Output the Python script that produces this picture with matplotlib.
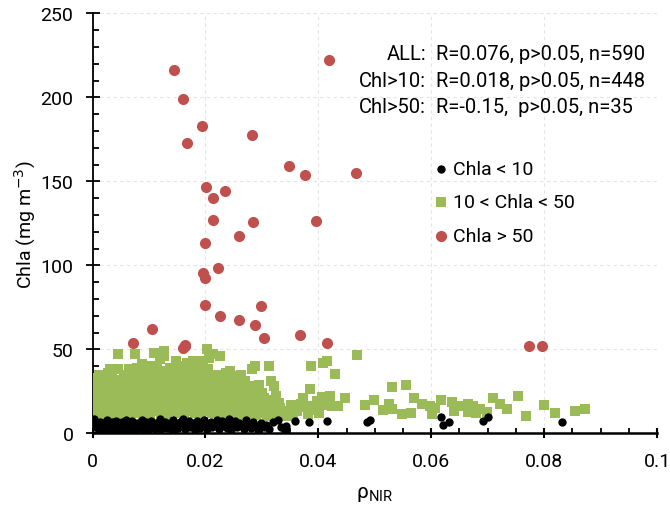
import matplotlib
matplotlib.use("Agg")
import matplotlib.pyplot as plt
from matplotlib.ticker import MultipleLocator

plt.rcParams['font.family'] = ['Roboto', 'DejaVu Sans']

# ---------------- data ----------------
red_x = [0.0145, 0.0161, 0.0168, 0.0194, 0.0282, 0.0418, 0.0348, 0.0376, 0.0466,
         0.0201, 0.0235, 0.0214, 0.0214, 0.0285, 0.0396, 0.0260, 0.0199, 0.0222,
         0.0196, 0.0199, 0.0200, 0.0298, 0.0225, 0.0260, 0.0287, 0.0106, 0.0304,
         0.0367, 0.0071, 0.0164, 0.0161, 0.0415, 0.0774, 0.0797, 0.0163]
red_y = [216.0, 198.8, 172.8, 183.0, 177.8, 222.4, 159.0, 154.0, 155.0,
         146.8, 144.4, 140.3, 127.0, 126.0, 126.4, 117.7, 113.3, 98.2,
         95.4, 92.3, 76.4, 76.0, 69.6, 67.7, 64.7, 62.3, 56.9,
         58.3, 53.6, 52.6, 51.0, 53.6, 52.0, 52.0, 52.0]

green_x = [
    0.0002, 0.0004, 0.0003, 0.0006, 0.0008, 0.0009, 0.0005, 0.0010, 0.0001, 0.0007,
    0.0012, 0.0014, 0.0013, 0.0016, 0.0018, 0.0019, 0.0015, 0.0017, 0.0020,
    0.0022, 0.0024, 0.0023, 0.0026, 0.0028, 0.0029, 0.0025, 0.0027, 0.0030, 0.0021,
    0.0032, 0.0034, 0.0033, 0.0036, 0.0038, 0.0039, 0.0035, 0.0037, 0.0031,
    0.0042, 0.0044, 0.0043, 0.0046, 0.0048, 0.0049, 0.0045, 0.0047, 0.0041,
    0.0052, 0.0054, 0.0053, 0.0056, 0.0058, 0.0059, 0.0055, 0.0057, 0.0051,
    0.0062, 0.0064, 0.0063, 0.0066, 0.0068, 0.0069, 0.0065, 0.0067, 0.0061,
    0.0072, 0.0074, 0.0073, 0.0076, 0.0078, 0.0079, 0.0075, 0.0077, 0.0071,
    0.0082, 0.0084, 0.0083, 0.0086, 0.0088, 0.0089, 0.0085, 0.0087, 0.0081,
    0.0092, 0.0094, 0.0093, 0.0096, 0.0098, 0.0099, 0.0095, 0.0097, 0.0091,
    0.0102, 0.0104, 0.0103, 0.0106, 0.0108, 0.0109, 0.0105, 0.0107, 0.0101,
    0.0112, 0.0114, 0.0113, 0.0116, 0.0118, 0.0119, 0.0115, 0.0117, 0.0111,
    0.0122, 0.0124, 0.0123, 0.0126, 0.0128, 0.0129, 0.0125, 0.0127, 0.0121,
    0.0132, 0.0134, 0.0133, 0.0136, 0.0138, 0.0139, 0.0135, 0.0137, 0.0131,
    0.0142, 0.0144, 0.0143, 0.0146, 0.0148, 0.0149, 0.0145, 0.0147, 0.0141,
    0.0152, 0.0154, 0.0153, 0.0156, 0.0158, 0.0159, 0.0155, 0.0157, 0.0151,
    0.0162, 0.0164, 0.0163, 0.0166, 0.0168, 0.0169, 0.0165, 0.0167, 0.0161,
    0.0172, 0.0174, 0.0173, 0.0176, 0.0178, 0.0179, 0.0175, 0.0177, 0.0171,
    0.0182, 0.0184, 0.0183, 0.0186, 0.0188, 0.0189, 0.0185, 0.0187, 0.0181,
    0.0192, 0.0194, 0.0193, 0.0196, 0.0198, 0.0199, 0.0195, 0.0197, 0.0191,
    0.0202, 0.0204, 0.0203, 0.0206, 0.0208, 0.0209, 0.0205, 0.0207, 0.0201,
    0.0212, 0.0214, 0.0213, 0.0216, 0.0218, 0.0219, 0.0215, 0.0217,
    0.0222, 0.0224, 0.0223, 0.0226, 0.0228, 0.0229, 0.0225,
    0.0232, 0.0234, 0.0233, 0.0236, 0.0238, 0.0239, 0.0235,
    0.0242, 0.0244, 0.0243, 0.0246, 0.0248, 0.0249, 0.0245,
    0.0252, 0.0254, 0.0253, 0.0256, 0.0258, 0.0259, 0.0255,
    0.0262, 0.0264, 0.0263, 0.0266, 0.0268, 0.0269, 0.0265,
    0.0272, 0.0274, 0.0273, 0.0276, 0.0278, 0.0279,
    0.0282, 0.0284, 0.0283, 0.0286, 0.0288, 0.0289, 0.0285,
    0.0292, 0.0294, 0.0293, 0.0296, 0.0298, 0.0299,
    0.0302, 0.0304, 0.0303, 0.0306, 0.0308, 0.0309,
    0.0312, 0.0314, 0.0316, 0.0318, 0.0319,
    0.0322, 0.0324, 0.0326, 0.0328,
    0.0332, 0.0338, 0.0342, 0.0346, 0.0351, 0.0355, 0.0359,
    0.0363, 0.0370, 0.0379, 0.0382, 0.0387, 0.0386, 0.0397, 0.0406, 0.0408, 0.0416,
    0.0418, 0.0424, 0.0430, 0.0435, 0.0448, 0.0468, 0.0368, 0.0398, 0.0410, 0.0420,
    0.0372, 0.0392, 0.0402, 0.0413,
    0.0483, 0.0499, 0.0514, 0.0526, 0.0530, 0.0530, 0.0555, 0.0570, 0.0548, 0.0565,
    0.0583, 0.0598, 0.0601, 0.0618, 0.0636, 0.0640, 0.0654, 0.0666, 0.0666, 0.0674,
    0.0686, 0.0698, 0.0710, 0.0722, 0.0734, 0.0754, 0.0768, 0.0800, 0.0819, 0.0855,
    0.0872, 0.0607, 0.0679,
    0.0006, 0.0011, 0.0019, 0.0027, 0.0033, 0.0040, 0.0045, 0.0050, 0.0056, 0.0060,
    0.0064, 0.0070, 0.0074, 0.0080, 0.0084, 0.0090, 0.0094, 0.0100, 0.0104, 0.0110,
    0.0114, 0.0120, 0.0124, 0.0130, 0.0134, 0.0140, 0.0144, 0.0150, 0.0154, 0.0160,
    0.0164, 0.0170, 0.0174, 0.0180, 0.0184, 0.0190, 0.0194, 0.0200, 0.0204, 0.0210,
    0.0214, 0.0220, 0.0224, 0.0230, 0.0234, 0.0240, 0.0244, 0.0250, 0.0254, 0.0260,
    0.0264, 0.0270, 0.0274, 0.0280, 0.0284, 0.0290, 0.0295, 0.0300, 0.0305, 0.0310,
    0.0315, 0.0320, 0.0325, 0.0330, 0.0335,
    0.0009, 0.0036, 0.0066, 0.0096, 0.0126, 0.0156, 0.0186, 0.0216, 0.0246, 0.0276,
]
green_y = [
    12, 17, 22, 27, 14, 20, 25, 30, 19, 10.5,
    13, 18, 24, 29, 11, 21, 32, 16, 26,
    12, 19, 28, 34, 15, 23, 31, 36, 38, 22,
    11, 17, 25, 30, 14, 21, 33, 27, 35,
    13, 20, 24, 29, 16, 11, 47, 26, 32,
    12, 18, 23, 28, 15, 21, 35, 31, 26,
    11, 17, 22, 27, 36, 14, 32, 20, 25,
    12, 19, 25, 30, 39, 16, 47, 34, 22,
    13, 18, 24, 29, 41, 11, 36, 21, 33,
    12, 17, 26, 31, 40, 20, 23, 35, 15,
    11, 16, 22, 28, 48, 35, 25, 19, 31,
    13, 18, 24, 30, 37, 44, 21, 27, 33,
    12, 17, 23, 49, 33, 20, 28, 46, 15,
    11, 16, 22, 27, 39, 31, 19, 25, 34,
    13, 18, 24, 29, 35, 21, 15, 43, 27,
    12, 17, 22, 40, 30, 26, 36, 19, 33,
    11, 16, 21, 27, 38, 32, 24, 42, 14,
    13, 18, 25, 30, 43, 22, 34, 16, 28,
    12, 17, 24, 37, 29, 20, 31, 14, 39,
    11, 19, 26, 43, 33, 15, 30, 22, 37,
    13, 18, 50, 31, 24, 35, 16, 45, 28,
    12, 20, 47, 27, 35, 15, 31, 23,
    14, 19, 34, 46, 25, 11, 29,
    13, 17, 21, 36, 26, 30, 12,
    15, 19, 37, 29, 23, 12, 34,
    14, 21, 27, 17, 24, 11, 31,
    13, 20, 35, 26, 17, 24, 31,
    12, 18, 23, 25, 15, 20,
    14, 19, 38, 22, 40, 11, 28,
    13, 17, 26, 20, 23, 15,
    12, 16, 21, 18, 14, 10.5,
    40, 13, 31, 17, 11,
    28, 14, 12, 16,
    15, 12, 13, 10.5, 17, 12, 14,
    13.5, 17.4, 16.4, 11.5, 39.9, 26.4, 19.4, 21.4, 41.7, 42.9,
    20.4, 16.4, 35.1, 16.4, 21.0, 46.8, 15.5, 17.5, 20.4, 22.4,
    21, 14, 12, 17,
    17.0, 20.0, 13.9, 17.4, 14.5, 27.4, 28.8, 21.0, 11.5, 12.1,
    17.4, 16.4, 11.5, 19.8, 18.5, 13.5, 16.4, 17.4, 12.5, 16.4,
    14.5, 12.5, 21.0, 17.4, 14.5, 22.0, 10.3, 17.0, 11.9, 13.5,
    14.3, 15.0, 12.0,
    33, 35, 33, 18, 37, 15, 38, 20, 33, 30,
    38, 29, 36, 26, 38, 28, 33, 24, 38, 29,
    40, 26, 36, 30, 37, 32, 39, 24, 28, 35,
    30, 38, 32, 26, 34, 28, 41, 33, 38, 25,
    33, 29, 22, 33, 27, 31, 16, 34, 18, 28,
    15, 31, 26, 16, 25, 19, 29, 24, 13, 20,
    15, 19, 22, 18, 10.5,
    15, 12.5, 13, 12.5, 13.5, 12.5, 13.5, 12.5, 14, 11.5,
]

black_x = [
    0.0002, 0.0004, 0.0008, 0.0011, 0.0013, 0.0016, 0.0019, 0.0021, 0.0024, 0.0026,
    0.0029, 0.0031, 0.0034, 0.0036, 0.0039, 0.0041, 0.0044, 0.0047, 0.0049, 0.0052,
    0.0055, 0.0057, 0.0060, 0.0062, 0.0065, 0.0068, 0.0070, 0.0073, 0.0076, 0.0079,
    0.0081, 0.0084, 0.0087, 0.0089, 0.0092, 0.0095, 0.0098, 0.0101, 0.0104, 0.0107,
    0.0110, 0.0113, 0.0116, 0.0119, 0.0122, 0.0125, 0.0128, 0.0131, 0.0134, 0.0137,
    0.0140, 0.0143, 0.0146, 0.0149, 0.0152, 0.0155, 0.0158, 0.0161, 0.0164, 0.0167,
    0.0170, 0.0173, 0.0176, 0.0179, 0.0182, 0.0185, 0.0188, 0.0191, 0.0194, 0.0197,
    0.0200, 0.0203, 0.0206, 0.0209, 0.0212, 0.0215, 0.0218, 0.0221, 0.0224, 0.0227,
    0.0230, 0.0233, 0.0236, 0.0239, 0.0242, 0.0245, 0.0248, 0.0252, 0.0256, 0.0260,
    0.0264, 0.0268, 0.0272, 0.0276, 0.0280, 0.0284, 0.0288, 0.0293, 0.0298, 0.0303,
    0.0308, 0.0313, 0.0320, 0.0328, 0.0333, 0.0341, 0.0343, 0.0358, 0.0383, 0.0415,
    0.0486, 0.0492, 0.0617, 0.0621, 0.0631, 0.0692, 0.0701, 0.0831,
]
black_y = [
    8.5, 3.5, 5.5, 2.0, 7.0, 4.0, 6.0, 1.5, 3.0, 8.0,
    5.0, 2.5, 6.5, 4.5, 1.8, 7.5, 3.2, 5.8, 2.2, 6.8,
    4.2, 1.6, 8.2, 3.6, 5.4, 2.4, 7.2, 4.6, 1.9, 6.2,
    3.0, 5.0, 8.0, 2.0, 4.4, 6.6, 1.7, 3.8, 7.4, 5.2,
    2.6, 6.0, 4.0, 8.4, 2.8, 5.6, 7.0, 3.4, 4.8, 6.4,
    2.2, 7.8, 4.6, 5.8, 3.0, 6.8, 4.2, 8.6, 2.6, 5.4,
    7.2, 3.8, 6.2, 4.4, 2.0, 7.6, 5.0, 3.2, 6.6, 8.2,
    4.0, 2.4, 5.8, 7.0, 3.6, 6.0, 4.8, 8.0, 2.8, 5.4,
    7.4, 4.2, 6.4, 3.0, 8.4, 1.8, 5.6, 7.2, 3.6, 6.0,
    4.4, 2.6, 7.8, 5.0, 3.2, 6.8, 4.6, 2.2, 6.2, 3.8,
    5.2, 2.8, 7.0, 8.1, 3.6, 1.6, 4.6, 7.5, 6.5, 7.1,
    6.5, 8.0, 9.9, 5.1, 6.5, 7.1, 9.5, 6.7,
]

series_labels = ["Chla < 10", "10 < Chla < 50", "Chla > 50"]
stats_names = ["ALL:", "Chl>10:", "Chl>50:"]
stats_values = ["R=0.076, p>0.05, n=590", "R=0.018, p>0.05, n=448", "R=-0.15,  p>0.05, n=35"]
xticks = [0, 0.02, 0.04, 0.06, 0.08, 0.1]
xtick_labels = ["0", "0.02", "0.04", "0.06", "0.08", "0.1"]
yticks = [0, 50, 100, 150, 200, 250]

# ---------------- plot ----------------
FS = 14
fig = plt.figure(figsize=(6.7, 5.1), dpi=100)
ax = fig.add_axes([0.1382, 0.1484, 0.8424, 0.8235])

c_black = "#000000"
c_green = "#9BBB59"
c_red = "#C0504D"

h1 = ax.scatter(black_x, black_y, s=36, marker="o", color=c_black, linewidths=0, zorder=4, label=series_labels[0])
h2 = ax.scatter(green_x, green_y, s=42, marker="s", color=c_green, linewidths=0, zorder=3, label=series_labels[1])
h3 = ax.scatter(red_x, red_y, s=64, marker="o", color=c_red, linewidths=0, zorder=5, label=series_labels[2])

ax.set_xlim(0, 0.1)
ax.set_ylim(0, 250)
ax.set_xticks(xticks, xtick_labels)
ax.set_yticks(yticks)
ax.xaxis.set_minor_locator(MultipleLocator(0.005))
ax.yaxis.set_minor_locator(MultipleLocator(10))

for s in ["top", "right"]:
    ax.spines[s].set_visible(False)
ax.spines["left"].set_linewidth(1.3)
ax.spines["bottom"].set_linewidth(1.8)

ax.tick_params(axis="y", which="major", direction="inout", length=9.5, width=1.3, labelsize=FS, pad=9)
ax.tick_params(axis="y", which="minor", direction="in", length=4, width=1.3)
ax.tick_params(axis="x", which="major", direction="inout", length=7.5, width=1.5, labelsize=FS, pad=10)
ax.tick_params(axis="x", which="minor", direction="in", length=3.5, width=1.3)

ax.grid(True, which="major", color="#E4E4E4", linestyle=(0, (3, 3)), linewidth=0.8, zorder=0)
ax.set_axisbelow(True)

ax.set_ylabel("Chla (mg m$^{-3}$)", fontsize=FS, labelpad=2)
ax.set_xlabel(r"$\mathregular{\rho_{NIR}}$", fontsize=FS + 1, labelpad=10)

for i, (n, v) in enumerate(zip(stats_names, stats_values)):
    yy = 226.2 - i * 15.9
    ax.text(0.0591, yy, n, ha="right", va="center", fontsize=FS + 0.5)
    ax.text(0.0609, yy, v, ha="left", va="center", fontsize=FS + 0.5)

leg = ax.legend(handles=[h1, h2, h3], loc="upper left", bbox_to_anchor=(0.607, 0.65),
                frameon=False, fontsize=FS, handlelength=0.6, handletextpad=0.3,
                labelspacing=0.78, borderpad=0, borderaxespad=0, scatterpoints=1)

fig.savefig("out.png", dpi=100)
